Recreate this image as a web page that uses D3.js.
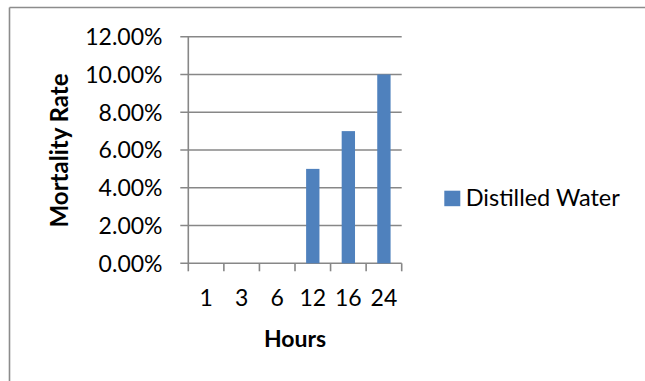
<!DOCTYPE html>
<html>
<head>
<meta charset="utf-8">
<script src="https://cdn.jsdelivr.net/npm/d3@7"></script>
<style>
  html, body { margin: 0; padding: 0; background: #fff; overflow: hidden; }
  svg { display: block; }
  text { font-family: Lato, "Open Sans", sans-serif; fill: #000; }
</style>
</head>
<body>
<svg id="chart" width="645" height="381"></svg>
<script>
// Mortality rate over exposure time
const hours = ["1", "3", "6", "12", "16", "24"];
const mortality = [0, 0, 0, 0.05, 0.07, 0.10];
const yTicks = [0, 0.02, 0.04, 0.06, 0.08, 0.10, 0.12];
const seriesName = "Distilled Water";
const xTitle = "Hours";
const yTitle = "Mortality Rate";

const svg = d3.select("#chart");
const plot = { left: 188.3, right: 401.7, top: 36.7, bottom: 263.3 };
const gridColor = "#878787";
const barColor = "#4F81BD";

// outer chart frame: only its top and left edges fall inside the view
svg.append("line")
  .attr("x1", 9.5).attr("x2", 645).attr("y1", 7.5).attr("y2", 7.5)
  .attr("stroke", "#8c8c8c").attr("stroke-width", 1.6);
svg.append("line")
  .attr("x1", 9.5).attr("x2", 9.5).attr("y1", 7.5).attr("y2", 381)
  .attr("stroke", "#8c8c8c").attr("stroke-width", 1.6);

const x = d3.scaleBand().domain(hours).range([plot.left, plot.right]).padding(0);
const y = d3.scaleLinear().domain([0, 0.12]).range([plot.bottom, plot.top]);

// horizontal gridlines with left tick marks
svg.append("g").selectAll("line").data(yTicks).join("line")
  .attr("x1", plot.left - 8).attr("x2", plot.right)
  .attr("y1", d => y(d)).attr("y2", d => y(d))
  .attr("stroke", gridColor).attr("stroke-width", 1.6);

// y axis line
svg.append("line")
  .attr("x1", plot.left).attr("x2", plot.left)
  .attr("y1", y(0.12)).attr("y2", y(0))
  .attr("stroke", gridColor).attr("stroke-width", 1.6);

// x axis tick marks at category boundaries
const edges = hours.map(h => x(h)).concat([x(hours[hours.length - 1]) + x.bandwidth()]);
svg.append("g").selectAll("line").data(edges).join("line")
  .attr("x1", d => d).attr("x2", d => d)
  .attr("y1", y(0)).attr("y2", y(0) + 8)
  .attr("stroke", gridColor).attr("stroke-width", 1.6);

// bars
const barFrac = 0.375;
svg.append("g").selectAll("rect").data(hours).join("rect")
  .attr("x", (h) => x(h) + x.bandwidth() * (1 - barFrac) / 2)
  .attr("width", x.bandwidth() * barFrac)
  .attr("y", (h, i) => y(mortality[i]))
  .attr("height", (h, i) => y(0) - y(mortality[i]))
  .attr("fill", barColor);

// y tick labels
const pct = d3.format(".2%");
svg.append("g").selectAll("text").data(yTicks).join("text")
  .attr("x", 162.5).attr("y", d => y(d))
  .attr("dy", "0.36em")
  .attr("text-anchor", "end")
  .attr("font-size", 23)
  .text(d => pct(d));

// x tick labels
svg.append("g").selectAll("text").data(hours).join("text")
  .attr("x", h => x(h) + x.bandwidth() / 2).attr("y", 306)
  .attr("text-anchor", "middle")
  .attr("font-size", 23)
  .text(h => h);

// axis titles
svg.append("text")
  .attr("x", (plot.left + plot.right) / 2).attr("y", 346.5)
  .attr("text-anchor", "middle")
  .attr("font-size", 23).attr("font-weight", "bold")
  .text(xTitle);

svg.append("text")
  .attr("transform", "translate(68.3,150.5) rotate(-90)")
  .attr("text-anchor", "middle")
  .attr("font-size", 24).attr("font-weight", "bold")
  .text(yTitle);

// legend
const legend = svg.append("g");
legend.append("rect")
  .attr("x", 444.3).attr("y", 190.7).attr("width", 16).attr("height", 15.5)
  .attr("fill", barColor);
legend.append("text")
  .attr("x", 465.7).attr("y", 206)
  .attr("font-size", 23.5)
  .text(seriesName);
</script>
</body>
</html>
